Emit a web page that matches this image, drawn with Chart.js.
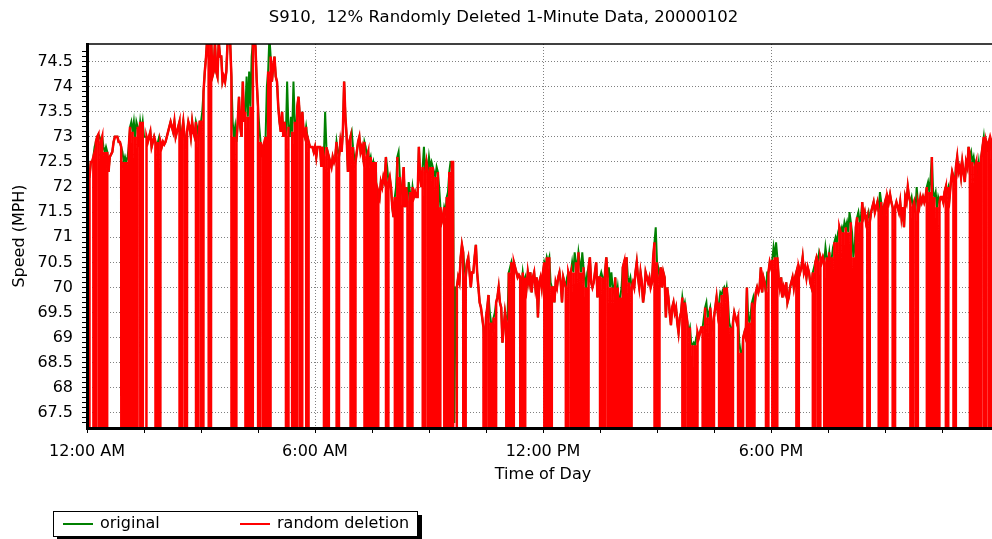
<!DOCTYPE html>
<html>
<head>
<meta charset="utf-8">
<script src="https://cdn.jsdelivr.net/npm/chart.js@4"></script>
<style>
  html, body { margin: 0; padding: 0; background: #fff; overflow: hidden; }
  #wrap { width: 1010px; height: 539px; }
</style>
</head>
<body>
<div id="wrap"><canvas id="grafico" width="1010" height="539"></canvas></div>
<script>
// tick labels
const xTickLabels = ['12:00 AM', '6:00 AM', '12:00 PM', '6:00 PM'];
const yTickLabels = ['67.5', '68', '68.5', '69', '69.5', '70', '70.5', '71', '71.5', '72', '72.5', '73', '73.5', '74', '74.5'];
const seriesNames = ['original', 'random deletion'];

// one sample every 2 minutes, starting at 12:00 AM
const minutesPerSample = 2;
const originalSpeed = [
  72.7, 72.2, 72.2, 72.5, 72.5, 72.6, 72.8, 72.9, 73.0, 73.05, // 0
  73.0, 72.9, 73.0, 72.8, 72.7, 72.8, 72.7, 72.3, 72.6, 72.65,
  72.7, 72.9, 73.0, 73.0, 73.0, 72.9, 72.9, 72.8, 72.7, 72.5,
  72.6, 72.5, 72.6, 72.8, 73.2, 73.3, 73.1, 73.3, 73.0, 73.3,
  73.2, 73.0, 73.3, 73.1, 73.3, 73.0, 73.0, 73.0, 72.9, 73.0,
  73.1, 72.8, 72.9, 73.0, 72.9, 72.8, 72.9, 73.0, 72.9, 72.8,
  72.9, 72.85, 72.9, 73.0, 73.1, 73.2, 73.3, 73.2, 73.1, 73.3,
  73.0, 73.1, 73.2, 73.3, 73.0, 73.1, 73.3, 73.0, 72.9, 73.1,
  73.3, 73.2, 73.0, 73.3, 73.1, 73.0, 73.3, 73.2, 73.0, 73.3,
  73.3, 73.5, 73.9, 74.3, 74.6, 75.0, 75.0, 74.9, 75.0, 74.2, // 90
  74.3, 74.9, 74.3, 74.2, 74.9, 74.6, 74.6, 74.1, 74.2, 74.1,
  74.3, 74.9, 75.0, 74.9, 74.2, 73.3, 73.0, 73.2, 72.9, 73.3,
  73.8, 73.2, 73.0, 74.1, 73.3, 73.5, 74.2, 73.4, 74.3, 73.6,
  74.6, 74.9, 75.0, 74.8, 74.1, 73.6, 73.2, 72.9, 72.7, 72.8,
  72.7, 73.0, 74.0, 74.3, 75.0, 74.6, 74.1, 74.4, 74.6, 74.2,
  74.1, 73.6, 73.3, 73.1, 73.5, 73.0, 73.3, 73.0, 74.1, 73.2,
  73.0, 73.4, 73.1, 74.1, 73.3, 73.0, 73.6, 73.8, 73.4, 73.2,
  73.5, 73.1, 73.0, 73.2, 73.0, 72.9, 72.8, 72.8, 72.8, 72.7,
  72.8, 72.6, 72.8, 72.8, 72.8, 72.4, 72.8, 72.6, 73.5, 72.8, // 180
  72.7, 72.6, 72.5, 72.4, 72.6, 72.5, 72.6, 72.9, 72.7, 72.6,
  72.9, 72.7, 73.1, 74.1, 73.4, 73.0, 72.3, 72.9, 73.0, 73.1,
  72.8, 72.6, 72.5, 72.7, 72.9, 73.0, 72.7, 72.8, 72.6, 72.9,
  72.8, 72.6, 72.7, 72.5, 72.6, 72.4, 72.5, 72.3, 72.5, 71.5,
  71.9, 71.8, 72.1, 72.0, 72.2, 72.1, 72.6, 72.4, 72.1, 72.2,
  72.0, 71.6, 71.4, 71.8, 72.0, 72.6, 72.7, 72.2, 71.9, 72.0,
  72.4, 71.6, 72.0, 71.7, 72.1, 71.9, 71.7, 72.0, 71.8, 71.9,
  71.8, 71.8, 72.8, 72.2, 72.0, 72.4, 72.8, 72.3, 72.5, 72.3,
  72.6, 72.4, 72.5, 72.4, 72.3, 72.2, 72.4, 72.3, 72.0, 71.6, // 270
  71.3, 71.4, 71.6, 71.5, 71.8, 71.9, 72.3, 72.5, 72.5, 72.5,
  67.3, 70.0, 70.0, 70.2, 70.1, 70.6, 70.85, 70.7, 70.4, 70.2,
  70.5, 70.6, 70.3, 70.0, 70.3, 70.3, 70.6, 70.85, 70.3, 70.0,
  69.7, 69.6, 69.4, 69.2, 68.8, 69.4, 69.6, 69.85, 69.5, 69.3,
  69.2, 69.4, 69.5, 69.7, 69.8, 70.0, 69.7, 69.6, 68.9, 69.2,
  69.5, 69.3, 69.4, 70.3, 70.4, 70.5, 70.3, 70.5, 70.4, 70.3,
  70.2, 70.25, 70.2, 70.0, 70.3, 70.1, 70.2, 70.0, 70.3, 70.1,
  70.3, 69.9, 70.2, 70.3, 70.0, 70.2, 69.4, 70.1, 70.2, 70.0,
  70.3, 70.5, 70.4, 70.6, 70.5, 70.6, 70.1, 70.0, 70.0, 69.7, // 360
  70.1, 70.0, 70.2, 70.3, 70.1, 69.7, 70.2, 70.1, 70.0, 70.2,
  70.3, 70.2, 70.3, 70.5, 70.3, 70.7, 70.5, 70.4, 70.7, 70.5,
  70.3, 70.7, 70.4, 70.2, 70.0, 70.3, 70.4, 70.6, 70.1, 70.0,
  70.1, 70.3, 70.5, 69.8, 70.2, 70.2, 70.3, 70.2, 70.1, 70.3,
  70.6, 70.2, 70.4, 70.0, 70.3, 70.0, 69.9, 70.2, 69.8, 70.0,
  69.7, 69.8, 70.0, 70.4, 70.5, 70.3, 70.6, 70.2, 70.1, 70.2,
  70.0, 70.1, 70.0, 70.3, 70.5, 70.2, 70.0, 70.3, 70.1, 69.7,
  69.9, 70.3, 70.2, 70.1, 70.2, 70.0, 70.1, 70.6, 70.9, 71.2,
  70.5, 70.4, 70.2, 70.4, 70.0, 70.3, 70.2, 69.4, 70.0, 69.8, // 450
  69.5, 69.25, 69.6, 69.7, 69.5, 69.6, 69.3, 69.1, 69.4, 69.5,
  69.8, 69.6, 69.7, 69.5, 69.3, 69.1, 69.2, 68.9, 68.85, 68.9,
  68.85, 69.0, 69.1, 69.0, 69.1, 69.2, 69.2, 69.4, 69.6, 69.7,
  69.4, 69.5, 69.6, 69.3, 69.2, 69.4, 69.6, 69.8, 69.5, 69.7,
  69.9, 69.85, 69.95, 70.0, 69.85, 70.0, 69.7, 69.3, 69.2, 69.1,
  69.3, 69.5, 69.4, 69.3, 69.4, 68.9, 68.7, 68.6, 69.0, 69.1,
  69.0, 70.0, 69.4, 69.3, 69.5, 69.7, 69.8, 69.6, 69.9, 70.0,
  69.9, 70.0, 70.4, 69.9, 70.2, 70.1, 69.9, 70.3, 70.3, 70.5,
  70.4, 70.55, 70.8, 70.6, 70.9, 70.6, 70.2, 70.0, 70.2, 69.8, // 540
  70.0, 69.9, 70.1, 69.7, 69.8, 70.0, 70.1, 70.2, 70.0, 70.2,
  70.3, 70.0, 70.4, 70.3, 70.4, 70.6, 70.3, 70.4, 70.2, 70.4,
  70.3, 70.1, 70.0, 70.3, 70.4, 70.5, 70.6, 70.5, 70.7, 70.6,
  70.5, 70.6, 70.5, 70.8, 70.6, 70.5, 70.7, 70.4, 70.6, 70.8,
  70.9, 71.0, 70.9, 71.1, 71.2, 71.1, 71.2, 71.1, 71.3, 71.2,
  71.3, 71.1, 71.5, 71.3, 71.1, 70.6, 70.8, 71.2, 71.4, 71.5,
  71.3, 71.4, 71.7, 71.4, 71.5, 71.3, 71.4, 71.5, 71.3, 71.5,
  71.6, 71.7, 71.5, 71.6, 71.7, 71.5, 71.9, 71.7, 71.5, 71.6,
  71.7, 71.6, 71.8, 71.7, 71.85, 71.7, 71.6, 71.5, 71.6, 71.7, // 630
  71.6, 71.5, 71.7, 71.4, 71.6, 71.2, 71.8, 71.7, 72.0, 71.8,
  71.7, 71.8, 71.6, 71.7, 71.5, 72.0, 71.7, 71.6, 71.8, 71.7,
  71.8, 71.7, 71.8, 72.0, 72.1, 71.9, 72.2, 72.6, 71.9, 71.8,
  71.9, 71.6, 71.8, 71.7, 71.8, 71.8, 71.7, 71.9, 72.0, 71.9,
  72.0, 71.8, 72.1, 72.3, 72.2, 72.1, 72.4, 72.6, 72.3, 72.4,
  72.2, 72.5, 72.3, 72.1, 72.5, 72.4, 72.8, 72.6, 72.7, 72.5,
  72.6, 72.4, 72.5, 72.3, 72.5, 72.2, 72.6, 72.8, 73.0, 72.7,
  72.9, 72.8, 72.9, 72.8, 72.9, 72.8, 72.9, 72.8, 72.9, 72.8
];

// samples removed in the "random deletion" series (they drop to 0)
const deletedSamples = [
  1, 6, 10, 13, 15, 28, 30, 32, 35, 37, 39, 43, 45, 46, 55, 57, 74, 78, 87, 91,
  97, 115, 117, 126, 128, 130, 136, 140, 142, 144, 158, 160, 161, 163, 165, 169, 174,
  188, 190, 198, 209, 211, 220, 223, 225, 227, 229, 237, 244, 246, 248, 254, 256, 266, 270, 272,
  274, 276, 278, 283, 285, 287, 290, 291, 298, 314, 318, 320, 322, 332, 334, 336, 343, 345, 362, 364,
  366, 379, 383, 385, 387, 389, 391, 393, 395, 406, 408, 412, 414, 416, 418, 420, 422, 425, 427, 429, 449, 451,
  471, 475, 477, 479, 481, 487, 489, 491, 494, 500, 502, 504, 507, 509, 515, 517, 522, 524, 526, 537, 542, 544,
  561, 574, 578, 583, 585, 587, 589, 591, 593, 596, 598, 600, 602, 604, 606, 609, 611, 617, 626, 628, 631, 637,
  651, 655, 664, 666, 668, 670, 672, 679, 685, 698, 700, 703, 705, 709, 713
];

var borrados = new Set(deletedSamples);
var puntosOriginal = [];
var puntosBorrado = [];
for (var i = 0; i < originalSpeed.length; i++) {
    var t = i * minutesPerSample;
    puntosOriginal.push({ x: t, y: originalSpeed[i] });
    puntosBorrado.push({ x: t, y: borrados.has(i) ? 0 : originalSpeed[i] });
}

function esMayor(v) {
    return yTickLabels.some(function (l) { return Math.abs(parseFloat(l) - v) < 1e-6; });
}

// top frame line and the boxed legend under the chart
const marco = {
    id: 'marco',
    afterDatasetsDraw(chart) {
        const a = chart.chartArea;
        const ctx = chart.ctx;
        ctx.save();
        ctx.strokeStyle = '#000';
        ctx.lineWidth = 1.5;
        ctx.beginPath();
        ctx.moveTo(a.left, a.top);
        ctx.lineTo(a.right + 5, a.top);
        ctx.stroke();
        ctx.restore();
    },
    afterDraw(chart) {
        const ctx = chart.ctx;
        ctx.save();
        ctx.fillStyle = '#000';
        ctx.fillRect(57, 515, 365, 25);
        ctx.fillStyle = '#fff';
        ctx.fillRect(53, 511, 365, 25);
        ctx.strokeStyle = '#000';
        ctx.lineWidth = 1;
        ctx.strokeRect(53.5, 511.5, 364, 25);
        const items = [{ x: 63, tx: 100 }, { x: 240, tx: 277 }];
        ctx.font = '16px "DejaVu Sans"';
        ctx.textBaseline = 'middle';
        chart.data.datasets.forEach(function (ds, k) {
            ctx.strokeStyle = ds.borderColor;
            ctx.lineWidth = 2;
            ctx.beginPath();
            ctx.moveTo(items[k].x, 524);
            ctx.lineTo(items[k].x + 30, 524);
            ctx.stroke();
            ctx.fillStyle = '#000';
            ctx.fillText(ds.label, items[k].tx, 524);
        });
        ctx.restore();
    }
};

Chart.defaults.font.family = '"DejaVu Sans", sans-serif';
Chart.defaults.font.size = 16;
Chart.defaults.color = '#000';

new Chart(document.getElementById('grafico'), {
    type: 'line',
    data: {
        datasets: [
            {
                label: seriesNames[0],
                data: puntosOriginal,
                borderColor: 'rgb(0, 128, 0)',
                borderWidth: 2,
                pointRadius: 0,
                tension: 0,
                order: 1
            },
            {
                label: seriesNames[1],
                data: puntosBorrado,
                borderColor: 'rgb(255, 0, 0)',
                borderWidth: 2.5,
                pointRadius: 0,
                tension: 0,
                order: 0
            }
        ]
    },
    options: {
        responsive: false,
        animation: false,
        events: [],
        layout: { padding: { top: 0, left: 8, right: 11, bottom: 50.6 } },
        scales: {
            x: {
                type: 'linear',
                min: 0,
                max: 1440,
                afterFit: function (axis) { axis.height = 60.4; },
                border: { color: '#000', width: 3, dash: [1, 2], z: 1 },
                grid: {
                    color: function (c) {
                        var v = c.tick ? c.tick.value : 0;
                        return (v % 360 === 0 && v > 0 && v < 1440) ? '#808080' : 'rgba(0,0,0,0)';
                    },
                    lineWidth: 1,
                    tickColor: '#000',
                    tickLength: 5,
                    tickWidth: 1
                },
                ticks: {
                    stepSize: 90,
                    autoSkip: false,
                    maxRotation: 0,
                    padding: 9,
                    callback: function (v) {
                        return (v % 360 === 0 && v < 1440) ? xTickLabels[v / 360] : '';
                    }
                },
                title: { display: true, text: 'Time of Day', padding: { top: 4, bottom: 4 } }
            },
            y: {
                min: 67.2,
                max: 74.85,
                afterFit: function (axis) { axis.width = 79; },
                border: { color: '#000', width: 3, dash: [1, 2], z: 1 },
                grid: {
                    color: function (c) {
                        return (c.tick && esMayor(c.tick.value)) ? '#808080' : 'rgba(0,0,0,0)';
                    },
                    lineWidth: 1,
                    tickColor: '#000',
                    tickLength: 5,
                    tickWidth: 1
                },
                afterBuildTicks: function (axis) {
                    axis.ticks = axis.ticks.filter(function (t) {
                        return t.value > 67.25 && t.value < 74.82;
                    });
                },
                ticks: {
                    stepSize: 0.1,
                    autoSkip: false,
                    padding: 9,
                    callback: function (v) {
                        var l = yTickLabels.find(function (s) { return Math.abs(parseFloat(s) - v) < 1e-6; });
                        return l || '';
                    }
                },
                title: { display: true, text: 'Speed (MPH)', padding: { top: 2, bottom: 8 } }
            }
        },
        plugins: {
            legend: { display: false },
            tooltip: { enabled: false },
            title: {
                display: true,
                text: 'S910,  12% Randomly Deleted 1-Minute Data, 20000102',
                font: { size: 16.5, weight: 'normal' },
                color: '#000',
                padding: { top: 8, bottom: 16.2 }
            }
        }
    },
    plugins: [marco]
});
</script>
</body>
</html>
